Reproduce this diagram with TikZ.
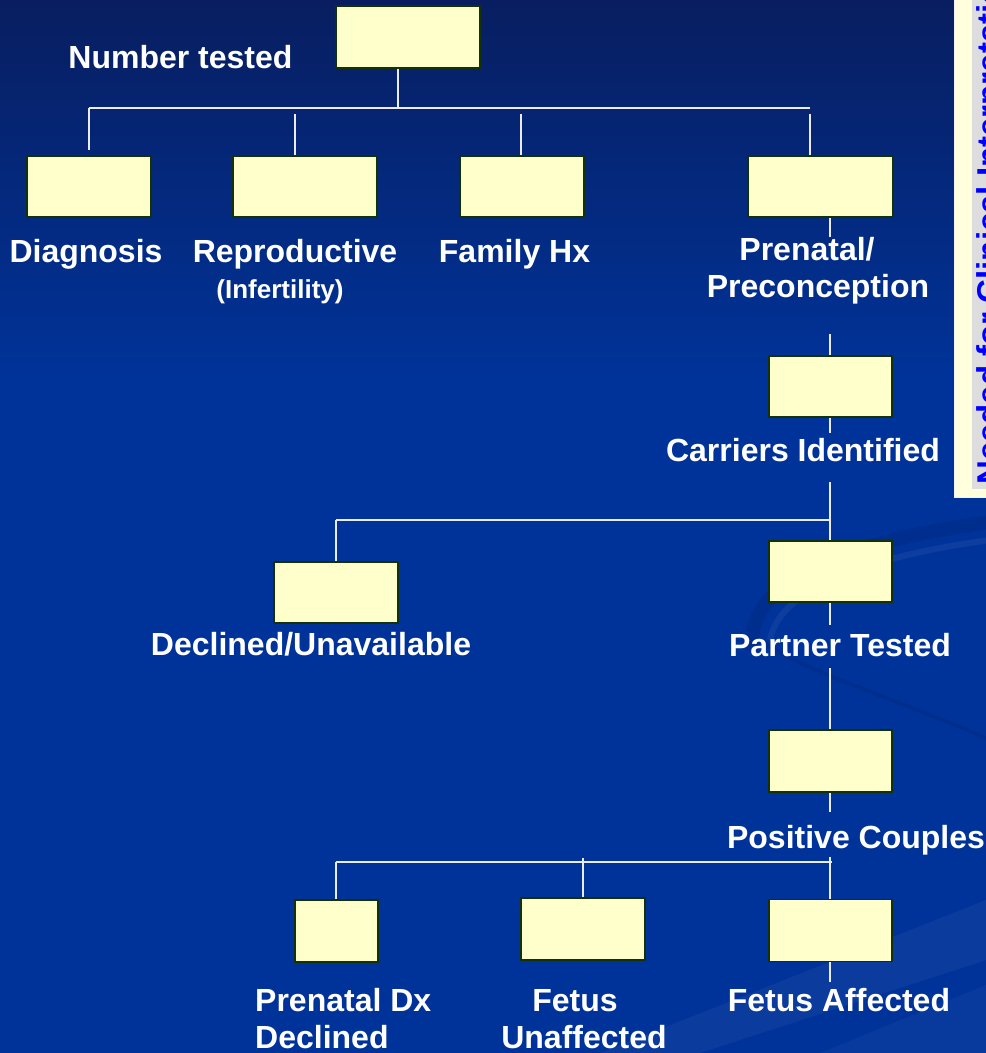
\documentclass[tikz,border=0pt]{standalone}
\usepackage{fontspec}
\setmainfont{Liberation Sans}
\definecolor{bgtop}{RGB}{8,30,96}
\definecolor{bgmain}{RGB}{0,51,153}
\definecolor{bgdark}{RGB}{0,40,130}
\definecolor{boxfill}{RGB}{255,255,204}
\definecolor{boxline}{RGB}{20,50,10}
\definecolor{linecol}{RGB}{235,235,235}
\definecolor{panelyellow}{RGB}{255,255,221}
\definecolor{panelgray}{RGB}{221,221,221}
\definecolor{noteblue}{RGB}{0,0,255}
\begin{document}
\begin{tikzpicture}[x=1pt,y=-1pt,
  box/.style={draw=boxline, line width=1.8pt, fill=boxfill, inner sep=0pt, rectangle},
  conn/.style={draw=linecol, line width=1.6pt},
  lbl/.style={text=white, font=\bfseries\fontsize{32}{36.5}\selectfont, inner sep=0pt},
  sublbl/.style={text=white, font=\bfseries\fontsize{26}{30}\selectfont, inner sep=0pt}]
\useasboundingbox (0,0) rectangle (986,1053);
\clip (0,0) rectangle (986,1053);
% background
\fill[bgmain] (0,0) rectangle (986,1053);
\shade[top color=bgtop, bottom color=bgmain] (0,0) rectangle (986,380);
% decorative swoosh
\draw[bgdark, line width=14pt, opacity=0.45] (752,650) .. controls (745,575) and (860,540) .. (990,522);
\draw[white, line width=6pt, opacity=0.05] (770,640) .. controls (780,585) and (880,555) .. (990,540);
\draw[bgdark, line width=4pt, opacity=0.45] (760,640) .. controls (800,670) and (900,700) .. (990,740);
\fill[white, opacity=0.04] (600,1053) -- (986,900) -- (986,960) -- (700,1053) -- cycle;
\fill[white, opacity=0.03] (820,1053) -- (986,985) -- (986,1053) -- cycle;

% right note panel
\draw[fill=panelyellow, draw=white!90!gray, line width=1pt] (954,-5) rectangle (995,497);
\fill[panelgray] (972,-5) rectangle (995,489);
\node[rotate=90, anchor=base west, inner sep=0pt, text=noteblue,
  font=\bfseries\fontsize{33}{38}\selectfont] (note) at (1000,485) {\underline{Needed for Clinical Interpretation}};

% boxes
\node[box, minimum width=144pt, minimum height=62pt] (top) at (408,37) {};
\node[box, minimum width=124pt, minimum height=61pt] (diag) at (89,186.5) {};
\node[box, minimum width=144pt, minimum height=61pt] (repro) at (305,186.5) {};
\node[box, minimum width=124pt, minimum height=61pt] (fam) at (522,186.5) {};
\node[box, minimum width=145pt, minimum height=61pt] (pren) at (820.5,186.5) {};
\node[box, minimum width=123pt, minimum height=61pt] (carr) at (830.5,386.5) {};
\node[box, minimum width=124pt, minimum height=61pt] (decl) at (336,592.5) {};
\node[box, minimum width=123pt, minimum height=61pt] (partner) at (830.5,571.5) {};
\node[box, minimum width=123pt, minimum height=62pt] (pos) at (830.5,761) {};
\node[box, minimum width=83pt, minimum height=62pt] (pdx) at (336.5,931) {};
\node[box, minimum width=124pt, minimum height=62pt] (unaff) at (583,929) {};
\node[box, minimum width=123pt, minimum height=62pt] (aff) at (830.5,930.5) {};

% labels (multi-line nodes: base = baseline of last line)
\node[lbl, anchor=base] (lnum) at (180.5,68) {Number tested};
\node[lbl, anchor=base] (ldiag) at (86,262) {Diagnosis};
\node[lbl, anchor=base] (lrepro) at (295,262) {Reproductive};
\node[sublbl, anchor=base] (linf) at (280,298) {(Infertility)};
\node[lbl, anchor=base] (lfam) at (514.5,262) {Family Hx};
\node[lbl, anchor=base, align=center] (lpren) at (818,297) {Prenatal/\hspace*{22pt}\\Preconception};
\node[lbl, anchor=base] (lcarr) at (803,461) {Carriers Identified};
\node[lbl, anchor=base] (ldecl) at (311,655) {Declined/Unavailable};
\node[lbl, anchor=base] (lpart) at (840,656) {Partner Tested};
\node[lbl, anchor=base] (lpos) at (856,848) {Positive Couples};
\node[lbl, anchor=base west, align=left] (lpdx) at (255,1048) {Prenatal Dx\\Declined};
\node[lbl, anchor=base, align=center] (lunaff) at (584,1048) {Fetus\hspace*{18pt}\\Unaffected};
\node[lbl, anchor=base] (laff) at (839,1011) {Fetus Affected};

% junction coordinates
\coordinate (j0) at (398,108);
\coordinate (hL) at (89,108);
\coordinate (hR) at (810,108);
\coordinate (t2) at (295,114);
\coordinate (t3) at (521,114);
\coordinate (t4) at (810,114);
\coordinate (v1a) at (830,237);
\coordinate (v1b) at (830,334);
\coordinate (v2a) at (830,433);
\coordinate (v2b) at (830,482);
\coordinate (j2) at (830,520);
\coordinate (j2L) at (336,520);
\coordinate (v3a) at (830,625);
\coordinate (v3b) at (830,668);
\coordinate (v4a) at (830,812);
\coordinate (v4b) at (830,857);
\coordinate (j3) at (830,862);
\coordinate (j3L) at (336,862);
\coordinate (j3M) at (583,858);
\coordinate (v5a) at (830,982);

% connectors
\draw[conn] (top.south -| j0) -- (j0);
\draw[conn] (hL) -- (hR);
\draw[conn] (hL) -- ([yshift=5pt]diag.north -| hL);
\draw[conn] (t2) -- (repro.north -| t2);
\draw[conn] (t3) -- (fam.north -| t3);
\draw[conn] (t4) -- (pren.north -| t4);
\draw[conn] (pren.south -| v1a) -- (v1a);
\draw[conn] (v1b) -- (carr.north -| v1b);
\draw[conn] (carr.south -| v2a) -- (v2a);
\draw[conn] (v2b) -- (partner.north -| v2b);
\draw[conn] (j2L) -- (j2);
\draw[conn] (j2L) -- (decl.north -| j2L);
\draw[conn] (partner.south -| v3a) -- (v3a);
\draw[conn] (v3b) -- (pos.north -| v3b);
\draw[conn] (pos.south -| v4a) -- (v4a);
\draw[conn] (v4b) -- (aff.north -| v4b);
\draw[conn] (j3L) -- ([xshift=2pt]j3);
\draw[conn] (j3L) -- (pdx.north -| j3L);
\draw[conn] (j3M) -- (unaff.north -| j3M);
\draw[conn] (aff.south -| v5a) -- (v5a);
\end{tikzpicture}
\end{document}
